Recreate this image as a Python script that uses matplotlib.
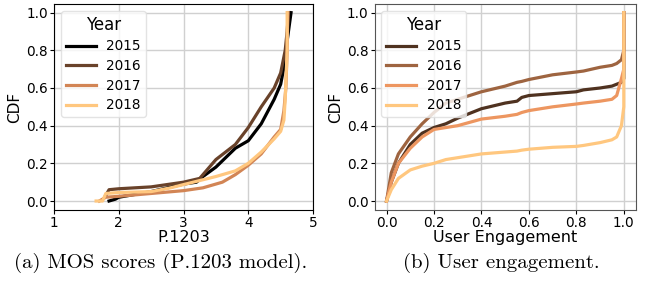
import numpy as np
import matplotlib
matplotlib.use("Agg")
import matplotlib.pyplot as plt

years = ['2015', '2016', '2017', '2018']

# (a) MOS scores, CDF points
mos_x = {
    '2015': [1.85, 1.95, 2.0, 2.5, 3.0, 3.2, 3.3, 3.5, 3.8, 4.0, 4.2, 4.4, 4.5, 4.55, 4.6, 4.66],
    '2016': [1.8, 1.85, 2.0, 2.5, 3.0, 3.25, 3.5, 3.8, 4.0, 4.2, 4.4, 4.5, 4.57, 4.6, 4.62],
    '2017': [1.7, 1.8, 2.0, 2.5, 3.0, 3.3, 3.6, 3.8, 4.0, 4.2, 4.4, 4.5, 4.55, 4.58, 4.6, 4.61],
    '2018': [1.65, 1.75, 1.8, 2.0, 2.5, 2.8, 3.5, 3.8, 4.0, 4.2, 4.4, 4.5, 4.55, 4.57, 4.6, 4.6],
}
mos_y = {
    '2015': [0.0, 0.01, 0.02, 0.05, 0.09, 0.1, 0.13, 0.18, 0.28, 0.32, 0.41, 0.54, 0.62, 0.71, 0.85, 1.0],
    '2016': [0.03, 0.06, 0.065, 0.075, 0.1, 0.12, 0.22, 0.3, 0.39, 0.5, 0.6, 0.68, 0.8, 0.9, 1.0],
    '2017': [0.0, 0.02, 0.025, 0.04, 0.055, 0.07, 0.1, 0.14, 0.19, 0.25, 0.34, 0.38, 0.48, 0.6, 0.8, 1.0],
    '2018': [0.0, 0.0, 0.04, 0.045, 0.05, 0.07, 0.13, 0.16, 0.2, 0.26, 0.33, 0.37, 0.43, 0.54, 0.8, 1.0],
}

# (b) user engagement
ue_x = [0.0, 0.02, 0.05, 0.1, 0.15, 0.2, 0.25, 0.3, 0.4, 0.5, 0.55, 0.57, 0.6, 0.7, 0.8, 0.83,
        0.9, 0.95, 0.97, 0.99, 1.0, 1.0]
ue_y = {
    '2015': [0.0, 0.1, 0.2, 0.3, 0.36, 0.39, 0.41, 0.44, 0.49, 0.52, 0.53, 0.55, 0.56, 0.57, 0.58,
             0.59, 0.6, 0.61, 0.62, 0.63, 0.65, 1.0],
    '2016': [0.0, 0.15, 0.25, 0.34, 0.41, 0.47, 0.52, 0.54, 0.58, 0.61, 0.63, 0.635, 0.645, 0.67,
             0.685, 0.69, 0.71, 0.72, 0.73, 0.75, 0.8, 1.0],
    '2017': [0.0, 0.1, 0.2, 0.28, 0.34, 0.38, 0.39, 0.4, 0.435, 0.45, 0.46, 0.47, 0.48, 0.5, 0.515,
             0.52, 0.53, 0.54, 0.56, 0.65, 0.7, 1.0],
    '2018': [0.0, 0.06, 0.12, 0.165, 0.185, 0.2, 0.22, 0.23, 0.25, 0.26, 0.265, 0.27, 0.275, 0.285,
             0.29, 0.295, 0.31, 0.325, 0.34, 0.4, 0.5, 1.0],
}

cmap = plt.get_cmap('copper')
colors_a = [cmap(v) for v in [0.0, 1/3, 2/3, 1.0]]
colors_b = [cmap(v) for v in [0.25, 0.5, 0.75, 1.0]]

fig = plt.figure(figsize=(6.46, 2.85), dpi=100)
ax1 = fig.add_axes([0.0836, 0.263, 0.401, 0.723])
ax2 = fig.add_axes([0.580, 0.263, 0.404, 0.723])

for y, c in zip(years, colors_a):
    ax1.plot(mos_x[y], mos_y[y], color=c, lw=2.3, label=y)
for y, c in zip(years, colors_b):
    ax2.plot(ue_x, ue_y[y], color=c, lw=2.3, label=y)

ax1.set_xlim(1, 5)
ax1.set_xticks([1, 2, 3, 4, 5])
ax1.set_xlabel('P.1203', fontsize=11.5, labelpad=0)
ax2.set_xlim(-0.05, 1.05)
ax2.set_xticks([0.0, 0.2, 0.4, 0.6, 0.8, 1.0])
ax2.set_xlabel('User Engagement', fontsize=11.5, labelpad=0)

for ax in (ax1, ax2):
    ax.set_ylim(-0.048, 1.046)
    ax.set_yticks([0.0, 0.2, 0.4, 0.6, 0.8, 1.0])
    ax.set_ylabel('CDF', fontsize=11, labelpad=3)
    ax.grid(True, color='#d0d0d0', lw=1)
    ax.set_axisbelow(True)
    ax.tick_params(labelsize=9.8, length=3, pad=1.5)
    leg = ax.legend(title='Year', loc='upper left', fontsize=9.8, title_fontsize=12,
                    handlelength=2.2, borderaxespad=0.5, labelspacing=0.42,
                    borderpad=0.35)
    leg.get_frame().set_edgecolor('#dddddd')

for s in ax2.spines.values():
    s.set_color('#555555')

fig.text(0.249, 0.077, '(a) MOS scores (P.1203 model).', ha='center', va='center',
         family='cmr10', fontsize=15)
fig.text(0.776, 0.077, '(b) User engagement.', ha='center', va='center',
         family='cmr10', fontsize=15)

fig.savefig('out.png', dpi=100)
